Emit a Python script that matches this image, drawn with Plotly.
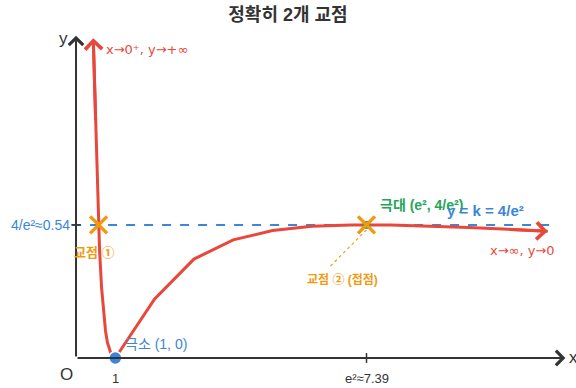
import plotly.graph_objects as go

# curve y = (ln x)^2 / x
curve_x = [0.44, 0.5, 0.55, 0.6, 0.65, 0.7, 0.75, 0.8, 0.85, 0.9, 0.95, 1,
           2, 3, 4, 5, 6, 7, 8, 9, 10, 11, 12]
curve_y = [1.29, 0.96, 0.65, 0.435, 0.286, 0.182, 0.110, 0.062, 0.031, 0.012, 0.003, 0,
           0.240, 0.402, 0.480, 0.518, 0.535, 0.541, 0.540, 0.536, 0.530, 0.523, 0.515]

k_value = 0.541          # 4/e^2
e2 = 7.39                # e^2
min_point = (1, 0)
cross_x = [0.575, 7.39]  # 교점 ①, 교점 ②

x_ticks = [1, 7.39]
x_tick_labels = ["1", "e²≈7.39"]

RED = "#e8473b"
BLUE = "#3b86d8"
ORANGE = "#f09a12"
GREEN = "#25a55a"
AXIS = "#333333"
FONT = "Liberation Sans, Noto Sans CJK KR, sans-serif"

fig = go.Figure()

# horizontal line y = k
fig.add_trace(go.Scatter(
    x=[-0.1, 12.1], y=[k_value, k_value], mode="lines",
    line=dict(color=BLUE, width=2, dash="dash"), hoverinfo="skip",
))

# curve
fig.add_trace(go.Scatter(
    x=curve_x, y=curve_y, mode="lines",
    line=dict(color=RED, width=3), hoverinfo="skip",
))

# dotted leader to label ②
fig.add_trace(go.Scatter(
    x=[e2, 6.45], y=[k_value - 0.02, 0.37], mode="lines",
    line=dict(color=ORANGE, width=1.2, dash="dot"), hoverinfo="skip",
))

# maximum marker
fig.add_trace(go.Scatter(
    x=[e2], y=[k_value], mode="markers",
    marker=dict(symbol="square", size=8, color=GREEN), hoverinfo="skip",
))

# intersection crosses
fig.add_trace(go.Scatter(
    x=cross_x, y=[k_value, k_value], mode="markers",
    marker=dict(symbol="x-thin", size=17, line=dict(color=ORANGE, width=3.5)),
    hoverinfo="skip",
))

# minimum point
fig.add_trace(go.Scatter(
    x=[min_point[0]], y=[min_point[1]], mode="markers",
    marker=dict(size=13, color=BLUE, line=dict(color="white", width=1.5)),
    hoverinfo="skip", cliponaxis=False,
))

annotations = []


def arrow(x, y, ax, ay, color, width, size=1.1):
    annotations.append(dict(
        x=x, y=y, ax=ax, ay=ay, xref="x", yref="y", axref="x", ayref="y",
        showarrow=True, arrowhead=4, arrowsize=size, arrowwidth=width,
        arrowcolor=color, text="",
    ))


# axes
arrow(12.45, 0, 0, 0, AXIS, 2, 1.4)
arrow(0, 1.31, 0, 0, AXIS, 2, 1.4)
# curve ends
arrow(curve_x[0], curve_y[0] + 0.01, curve_x[1], curve_y[1], RED, 3)
arrow(curve_x[-1], curve_y[-1], curve_x[-2], curve_y[-2], RED, 3)


def label(x, y, text, color, size=12, bold=False, xanchor="center", family=FONT):
    annotations.append(dict(
        x=x, y=y, xref="x", yref="y", text=f"<b>{text}</b>" if bold else text,
        showarrow=False, xanchor=xanchor, yanchor="middle",
        font=dict(color=color, size=size, family=family),
    ))


label(-0.33, 1.30, "y", AXIS, 17)
label(12.5, 0, "x", AXIS, 17, xanchor="left")
label(-0.23, -0.067, "O", AXIS, 17)
for tx, tl in zip(x_ticks, x_tick_labels):
    label(tx, -0.083, tl, AXIS, 13)
label(-0.1, k_value, "4/e²≈0.54", BLUE, 14, xanchor="right")
label(0.72, 1.252, "x→0⁺, y→+∞", RED, 13, xanchor="left",
      family="DejaVu Sans, sans-serif")
label(11.37, 0.435, "x→∞, y→0", RED, 13, family="DejaVu Sans, sans-serif")
label(0.48, 0.43, "교점 ①", ORANGE, 13, bold=True)
label(6.77, 0.317, "교점 ② (접점)", ORANGE, 12, bold=True)
label(1.2, 0.057, "극소 (1, 0)", BLUE, 14, xanchor="left")
label(7.68, 0.622, "극대 (e², 4/e²)", GREEN, 14, bold=True, xanchor="left")
label(10.43, 0.60, "y = k = 4/e²", BLUE, 15, bold=True)

shapes = [
    dict(type="line", xref="x", yref="y", x0=e2, x1=e2, y0=-0.02, y1=0.02,
         line=dict(color=AXIS, width=1.5)),
    dict(type="line", xref="x", yref="y", x0=-0.12, x1=0.12, y0=k_value, y1=k_value,
         line=dict(color=AXIS, width=1.5)),
]

fig.update_layout(
    width=576, height=388,
    margin=dict(l=0, r=0, t=0, b=0),
    paper_bgcolor="white", plot_bgcolor="white",
    showlegend=False,
    title=dict(text="<b>정확히 2개 교점</b>", x=0.5, xanchor="center",
               y=0.962, yanchor="middle",
               font=dict(size=18, color="#333333", family=FONT)),
    xaxis=dict(range=[-1.934, 12.72], visible=False, fixedrange=True),
    yaxis=dict(range=[-0.122, 1.455], visible=False, fixedrange=True),
    annotations=annotations,
    shapes=shapes,
    font=dict(family=FONT),
)

fig.write_html("out.html", config={"displayModeBar": False},
               post_script="document.body.style.margin='0';")
